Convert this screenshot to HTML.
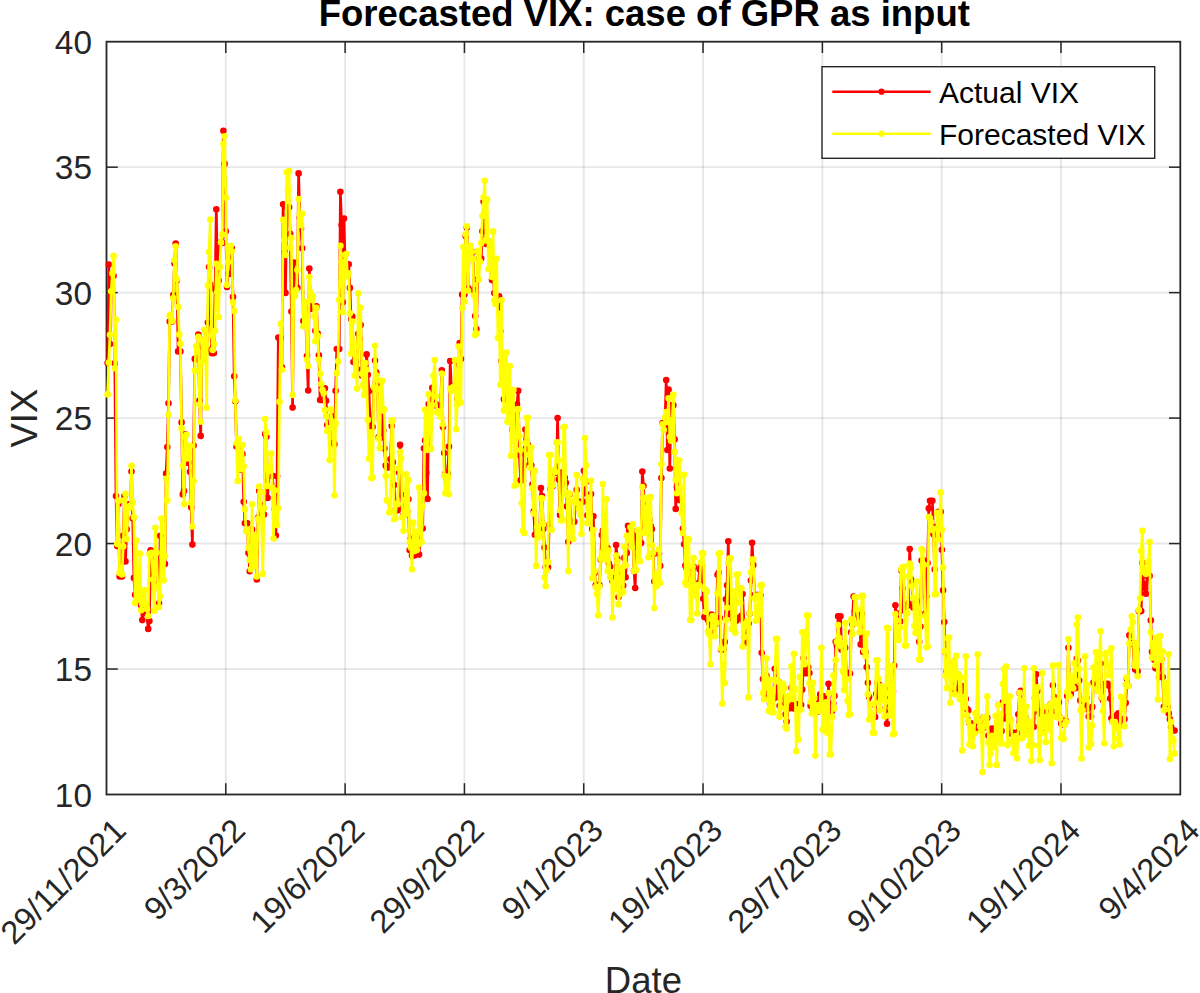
<!DOCTYPE html>
<html><head><meta charset="utf-8"><title>Forecasted VIX</title>
<style>html,body{margin:0;padding:0;background:#fff}body{width:1200px;height:993px;position:relative;overflow:hidden;font-family:"Liberation Sans",sans-serif}</style></head>
<body>
<svg width="1200" height="993" viewBox="0 0 1200 993" style="position:absolute;left:0;top:0;font-family:'Liberation Sans',sans-serif">
<rect x="0" y="0" width="1200" height="993" fill="#fff"/>
<line x1="225.81" y1="41.7" x2="225.81" y2="794.5" stroke="rgba(38,38,38,0.11)" stroke-width="1.9"/>
<line x1="345.12" y1="41.7" x2="345.12" y2="794.5" stroke="rgba(38,38,38,0.11)" stroke-width="1.9"/>
<line x1="464.43" y1="41.7" x2="464.43" y2="794.5" stroke="rgba(38,38,38,0.11)" stroke-width="1.9"/>
<line x1="583.74" y1="41.7" x2="583.74" y2="794.5" stroke="rgba(38,38,38,0.11)" stroke-width="1.9"/>
<line x1="703.06" y1="41.7" x2="703.06" y2="794.5" stroke="rgba(38,38,38,0.11)" stroke-width="1.9"/>
<line x1="822.37" y1="41.7" x2="822.37" y2="794.5" stroke="rgba(38,38,38,0.11)" stroke-width="1.9"/>
<line x1="941.68" y1="41.7" x2="941.68" y2="794.5" stroke="rgba(38,38,38,0.11)" stroke-width="1.9"/>
<line x1="1060.99" y1="41.7" x2="1060.99" y2="794.5" stroke="rgba(38,38,38,0.11)" stroke-width="1.9"/>
<line x1="106.5" y1="669.03" x2="1180.3" y2="669.03" stroke="rgba(38,38,38,0.11)" stroke-width="1.9"/>
<line x1="106.5" y1="543.57" x2="1180.3" y2="543.57" stroke="rgba(38,38,38,0.11)" stroke-width="1.9"/>
<line x1="106.5" y1="418.10" x2="1180.3" y2="418.10" stroke="rgba(38,38,38,0.11)" stroke-width="1.9"/>
<line x1="106.5" y1="292.63" x2="1180.3" y2="292.63" stroke="rgba(38,38,38,0.11)" stroke-width="1.9"/>
<line x1="106.5" y1="167.17" x2="1180.3" y2="167.17" stroke="rgba(38,38,38,0.11)" stroke-width="1.9"/>
<rect x="106.5" y="41.7" width="1073.8" height="752.8" fill="none" stroke="#262626" stroke-width="1.8"/>
<line x1="225.81" y1="794.5" x2="225.81" y2="783.2" stroke="#262626" stroke-width="1.5"/>
<line x1="225.81" y1="41.7" x2="225.81" y2="53.0" stroke="#262626" stroke-width="1.5"/>
<line x1="345.12" y1="794.5" x2="345.12" y2="783.2" stroke="#262626" stroke-width="1.5"/>
<line x1="345.12" y1="41.7" x2="345.12" y2="53.0" stroke="#262626" stroke-width="1.5"/>
<line x1="464.43" y1="794.5" x2="464.43" y2="783.2" stroke="#262626" stroke-width="1.5"/>
<line x1="464.43" y1="41.7" x2="464.43" y2="53.0" stroke="#262626" stroke-width="1.5"/>
<line x1="583.74" y1="794.5" x2="583.74" y2="783.2" stroke="#262626" stroke-width="1.5"/>
<line x1="583.74" y1="41.7" x2="583.74" y2="53.0" stroke="#262626" stroke-width="1.5"/>
<line x1="703.06" y1="794.5" x2="703.06" y2="783.2" stroke="#262626" stroke-width="1.5"/>
<line x1="703.06" y1="41.7" x2="703.06" y2="53.0" stroke="#262626" stroke-width="1.5"/>
<line x1="822.37" y1="794.5" x2="822.37" y2="783.2" stroke="#262626" stroke-width="1.5"/>
<line x1="822.37" y1="41.7" x2="822.37" y2="53.0" stroke="#262626" stroke-width="1.5"/>
<line x1="941.68" y1="794.5" x2="941.68" y2="783.2" stroke="#262626" stroke-width="1.5"/>
<line x1="941.68" y1="41.7" x2="941.68" y2="53.0" stroke="#262626" stroke-width="1.5"/>
<line x1="1060.99" y1="794.5" x2="1060.99" y2="783.2" stroke="#262626" stroke-width="1.5"/>
<line x1="1060.99" y1="41.7" x2="1060.99" y2="53.0" stroke="#262626" stroke-width="1.5"/>
<line x1="106.5" y1="669.03" x2="117.8" y2="669.03" stroke="#262626" stroke-width="1.5"/>
<line x1="1180.3" y1="669.03" x2="1169.0" y2="669.03" stroke="#262626" stroke-width="1.5"/>
<line x1="106.5" y1="543.57" x2="117.8" y2="543.57" stroke="#262626" stroke-width="1.5"/>
<line x1="1180.3" y1="543.57" x2="1169.0" y2="543.57" stroke="#262626" stroke-width="1.5"/>
<line x1="106.5" y1="418.10" x2="117.8" y2="418.10" stroke="#262626" stroke-width="1.5"/>
<line x1="1180.3" y1="418.10" x2="1169.0" y2="418.10" stroke="#262626" stroke-width="1.5"/>
<line x1="106.5" y1="292.63" x2="117.8" y2="292.63" stroke="#262626" stroke-width="1.5"/>
<line x1="1180.3" y1="292.63" x2="1169.0" y2="292.63" stroke="#262626" stroke-width="1.5"/>
<line x1="106.5" y1="167.17" x2="117.8" y2="167.17" stroke="#262626" stroke-width="1.5"/>
<line x1="1180.3" y1="167.17" x2="1169.0" y2="167.17" stroke="#262626" stroke-width="1.5"/>
<polyline points="107.6,363.1 108.8,264.5 110.0,344.1 111.2,275.8 112.4,275.8 113.6,275.8 114.8,363.4 116.0,496.1 117.2,546.1 118.4,503.9 119.6,576.4 120.8,576.4 122.0,576.4 123.2,535.8 124.4,496.1 125.5,561.4 126.7,529.3 127.9,504.2 129.1,504.2 130.3,504.2 131.5,471.5 132.7,518.2 133.9,577.9 135.1,594.8 136.3,594.8 137.5,594.8 138.7,594.8 139.9,601.8 141.1,605.3 142.3,620.1 143.4,610.6 144.6,613.3 145.8,613.3 147.0,613.3 148.2,628.9 149.4,621.1 150.6,550.3 151.8,553.4 153.0,574.7 154.2,574.7 155.4,574.7 156.6,558.6 157.8,583.5 159.0,603.3 160.2,535.8 161.4,563.9 162.5,563.9 163.7,563.9 164.9,563.9 166.1,473.6 167.3,447.0 168.5,403.3 169.7,321.5 170.9,321.5 172.1,321.5 173.3,295.1 174.5,263.5 175.7,243.5 176.9,280.3 178.1,351.4 179.3,351.4 180.4,351.4 181.6,422.4 182.8,494.4 184.0,491.1 185.2,434.4 186.4,462.8 187.6,462.8 188.8,462.8 190.0,471.8 191.2,507.4 192.4,544.6 193.6,445.5 194.8,358.9 196.0,358.9 197.2,358.9 198.3,334.5 199.5,400.5 200.7,435.9 201.9,340.1 203.1,349.1 204.3,349.1 205.5,349.1 206.7,349.1 207.9,322.5 209.1,267.0 210.3,284.6 211.5,353.1 212.7,353.1 213.9,353.1 215.1,288.9 216.3,209.3 217.4,274.1 218.6,280.6 219.8,242.9 221.0,242.9 222.2,242.9 223.4,130.8 224.6,163.9 225.8,231.2 227.0,286.9 228.2,273.8 229.4,273.8 230.6,273.8 231.8,248.2 233.0,296.9 234.2,376.2 235.3,401.3 236.5,446.5 237.7,446.5 238.9,446.5 240.1,455.0 241.3,469.8 242.5,454.0 243.7,501.7 244.9,523.2 246.1,523.2 247.3,523.2 248.5,552.9 249.7,571.2 250.9,560.4 252.1,529.5 253.3,552.9 254.4,552.9 255.6,552.9 256.8,579.5 258.0,517.7 259.2,490.9 260.4,504.7 261.6,514.5 262.8,514.5 264.0,514.5 265.2,433.9 266.4,436.7 267.6,497.9 268.8,475.8 270.0,475.8 271.2,475.8 272.3,475.8 273.5,489.1 274.7,509.2 275.9,535.5 277.1,476.3 278.3,337.6 279.5,337.6 280.7,337.6 281.9,367.4 283.1,204.3 284.3,252.5 285.5,292.9 286.7,207.3 287.9,207.3 289.1,207.3 290.2,233.9 291.4,311.5 292.6,407.6 293.8,262.5 295.0,287.9 296.2,287.9 297.4,287.9 298.6,173.4 299.8,217.6 301.0,228.4 302.2,248.2 303.4,321.0 304.6,321.0 305.8,321.0 307.0,356.1 308.2,390.5 309.3,268.5 310.5,308.9 311.7,306.9 312.9,306.9 314.1,306.9 315.3,330.8 316.5,306.4 317.7,333.5 318.9,355.4 320.1,400.0 321.3,400.0 322.5,400.0 323.7,400.0 324.9,388.2 326.1,400.8 327.2,425.1 328.4,423.4 329.6,423.4 330.8,423.4 332.0,416.3 333.2,442.7 334.4,444.2 335.6,390.7 336.8,349.1 338.0,349.1 339.2,349.1 340.4,191.8 341.6,225.1 342.8,302.2 344.0,218.6 345.1,264.3 346.3,264.3 347.5,264.3 348.7,264.3 349.9,287.9 351.1,319.0 352.3,316.5 353.5,362.1 354.7,362.1 355.9,362.1 357.1,369.2 358.3,333.8 359.5,338.8 360.7,325.0 361.9,375.4 363.1,375.4 364.2,375.4 365.4,375.4 366.6,354.4 367.8,374.7 369.0,391.0 370.2,427.1 371.4,427.1 372.6,427.1 373.8,388.7 375.0,360.6 376.2,372.4 377.4,383.0 378.6,437.4 379.8,437.4 381.0,437.4 382.1,410.6 383.3,430.6 384.5,448.5 385.7,465.5 386.9,467.5 388.1,467.5 389.3,467.5 390.5,459.3 391.7,425.9 392.9,462.3 394.1,485.1 395.3,510.2 396.5,510.2 397.7,510.2 398.9,472.3 400.1,444.9 401.2,494.6 402.4,507.4 403.6,514.7 404.8,514.7 406.0,514.7 407.2,511.2 408.4,499.2 409.6,550.1 410.8,538.5 412.0,555.4 413.2,555.4 414.4,555.4 415.6,544.8 416.8,551.3 418.0,546.1 419.1,554.6 420.3,528.5 421.5,528.5 422.7,528.5 423.9,448.2 425.1,440.4 426.3,472.8 427.5,498.9 428.7,404.0 429.9,404.0 431.1,404.0 432.3,387.7 433.5,387.7 434.7,396.3 435.9,404.0 437.0,406.3 438.2,406.3 439.4,406.3 440.6,406.3 441.8,370.2 443.0,427.1 444.2,453.0 445.4,473.6 446.6,473.6 447.8,473.6 449.0,446.5 450.2,361.1 451.4,389.0 452.6,386.2 453.8,385.5 455.0,385.5 456.1,385.5 457.3,399.0 458.5,363.9 459.7,343.1 460.9,359.1 462.1,294.6 463.3,294.6 464.5,294.6 465.7,235.9 466.9,227.4 468.1,288.1 469.3,246.5 470.5,252.0 471.7,252.0 472.9,252.0 474.0,290.1 475.2,316.0 476.4,329.0 477.6,279.6 478.8,258.5 480.0,258.5 481.2,258.5 482.4,231.2 483.6,201.5 484.8,203.1 486.0,244.0 487.2,241.9 488.4,241.9 489.6,241.9 490.8,258.3 492.0,280.1 493.1,273.6 494.3,293.1 495.5,300.4 496.7,300.4 497.9,300.4 499.1,296.4 500.3,331.3 501.5,360.9 502.7,358.1 503.9,399.3 505.1,399.3 506.3,399.3 507.5,396.0 508.7,397.8 509.9,396.5 511.0,410.6 512.2,429.4 513.4,429.4 514.6,429.4 515.8,434.4 517.0,404.5 518.2,390.7 519.4,455.0 520.6,480.3 521.8,480.3 523.0,480.3 524.2,450.0 525.4,429.6 526.6,440.4 527.8,444.9 528.9,465.3 530.1,465.3 531.3,465.3 532.5,484.3 533.7,511.2 534.9,534.8 536.1,534.8 537.3,531.0 538.5,531.0 539.7,531.0 540.9,488.1 542.1,496.1 543.3,529.0 544.5,547.6 545.7,567.2 546.9,567.2 548.0,567.2 549.2,524.7 550.4,489.1 551.6,476.3 552.8,486.1 554.0,472.6 555.2,472.6 556.4,472.6 557.6,418.1 558.8,479.6 560.0,515.0 561.2,472.6 562.4,477.8 563.6,477.8 564.8,477.8 565.9,482.8 567.1,506.4 568.3,541.8 569.5,494.1 570.7,521.7 571.9,521.7 573.1,521.7 574.3,521.7 575.5,502.2 576.7,489.9 577.9,507.4 579.1,501.7 580.3,501.7 581.5,501.7 582.7,501.7 583.9,470.8 585.0,493.1 586.2,481.8 587.4,515.2 588.6,515.2 589.8,515.2 591.0,494.1 592.2,529.0 593.4,516.2 594.6,572.9 595.8,585.0 597.0,585.0 598.2,585.0 599.4,585.0 600.6,559.6 601.8,535.0 602.9,530.5 604.1,547.3 605.3,547.3 606.5,547.3 607.7,548.3 608.9,563.6 610.1,566.7 611.3,575.4 612.5,581.0 613.7,581.0 614.9,581.0 616.1,545.1 617.3,558.6 618.5,597.0 619.7,575.4 620.8,585.5 622.0,585.5 623.2,585.5 624.4,557.9 625.6,577.2 626.8,552.9 628.0,525.8 629.2,530.3 630.4,530.3 631.6,530.3 632.8,535.0 634.0,570.9 635.2,588.0 636.4,539.3 637.6,543.1 638.8,543.1 639.9,543.1 641.1,543.1 642.3,471.5 643.5,486.1 644.7,515.0 645.9,501.7 647.1,501.7 648.3,501.7 649.5,519.7 650.7,526.0 651.9,529.0 653.1,553.9 654.3,581.5 655.5,581.5 656.7,581.5 657.8,578.4 659.0,553.9 660.2,565.9 661.4,478.1 662.6,423.1 663.8,423.1 665.0,423.1 666.2,380.0 667.4,450.0 668.6,389.5 669.8,468.5 671.0,405.3 672.2,405.3 673.4,405.3 674.6,439.4 675.7,508.9 676.9,486.9 678.1,478.1 679.3,499.9 680.5,499.9 681.7,499.9 682.9,528.5 684.1,544.3 685.3,565.6 686.5,568.2 687.7,576.2 688.9,576.2 690.1,576.2 691.3,580.0 692.5,568.7 693.7,566.7 694.8,583.7 696.0,583.7 697.2,583.7 698.4,583.7 699.6,569.4 700.8,566.2 702.0,566.4 703.2,598.8 704.4,617.1 705.6,617.1 706.8,617.1 708.0,620.1 709.2,623.1 710.4,632.4 711.6,614.6 712.7,624.6 713.9,624.6 715.1,624.6 716.3,621.6 717.5,574.7 718.7,572.7 719.9,618.1 721.1,649.5 722.3,649.5 723.5,649.5 724.7,641.9 725.9,599.3 727.1,585.2 728.3,541.3 729.5,614.1 730.7,614.1 731.8,614.1 733.0,619.3 734.2,601.0 735.4,620.4 736.6,620.6 737.8,618.1 739.0,618.1 740.2,618.1 741.4,615.8 742.6,594.0 743.8,622.1 745.0,642.7 746.2,623.6 747.4,623.6 748.6,623.6 749.7,613.6 750.9,580.5 752.1,542.8 753.3,565.1 754.5,595.0 755.7,595.0 756.9,595.0 758.1,595.0 759.3,607.3 760.5,595.3 761.7,652.7 762.9,679.1 764.1,679.1 765.3,679.1 766.5,675.8 767.6,695.1 768.8,695.6 770.0,702.9 771.2,698.4 772.4,698.4 773.6,698.4 774.8,668.8 776.0,678.8 777.2,697.1 778.4,681.6 779.6,705.7 780.8,705.7 782.0,705.7 783.2,705.7 784.4,697.1 785.6,714.2 786.7,721.5 787.9,708.2 789.1,708.2 790.3,708.2 791.5,687.9 792.7,700.7 793.9,708.4 795.1,705.7 796.3,704.4 797.5,704.4 798.7,704.4 799.9,704.9 801.1,704.9 802.3,689.6 803.5,658.0 804.6,673.3 805.8,673.3 807.0,673.3 808.2,667.3 809.4,673.0 810.6,705.7 811.8,703.9 813.0,710.7 814.2,710.7 815.4,710.7 816.6,707.2 817.8,711.7 819.0,700.1 820.2,694.4 821.4,704.2 822.6,704.2 823.7,704.2 824.9,696.4 826.1,697.6 827.3,714.5 828.5,683.8 829.7,710.9 830.9,710.9 832.1,710.9 833.3,703.4 834.5,695.9 835.7,641.7 836.9,645.9 838.1,616.3 839.3,616.3 840.5,616.3 841.6,649.7 842.8,644.2 844.0,644.9 845.2,647.7 846.4,673.0 847.6,673.0 848.8,673.0 850.0,673.6 851.2,632.4 852.4,624.4 853.6,596.5 854.8,611.3 856.0,611.3 857.2,611.3 858.4,615.6 859.5,619.6 860.7,644.4 861.9,613.8 863.1,652.0 864.3,652.0 865.5,652.0 866.7,667.0 867.9,682.8 869.1,697.1 870.3,704.9 871.5,717.0 872.7,717.0 873.9,717.0 875.1,717.0 876.3,693.9 877.5,682.8 878.6,684.1 879.8,698.1 881.0,698.1 882.2,698.1 883.4,699.1 884.6,688.4 885.8,707.2 887.0,723.7 888.2,699.4 889.4,699.4 890.6,699.4 891.8,694.1 893.0,691.4 894.2,665.5 895.4,605.3 896.5,613.8 897.7,613.8 898.9,613.8 900.1,621.4 901.3,570.2 902.5,588.2 903.7,610.3 904.9,605.8 906.1,605.8 907.3,605.8 908.5,603.5 909.7,549.1 910.9,579.2 912.1,581.5 913.3,607.6 914.4,607.6 915.6,607.6 916.8,601.3 918.0,618.1 919.2,641.7 920.4,626.6 921.6,560.6 922.8,560.6 924.0,560.6 925.2,613.6 926.4,596.8 927.6,563.1 928.8,508.4 930.0,500.7 931.2,500.7 932.4,500.7 933.5,534.3 934.7,569.4 935.9,538.8 937.1,526.5 938.3,511.7 939.5,511.7 940.7,511.7 941.9,549.8 943.1,590.2 944.3,622.1 945.5,652.5 946.7,671.3 947.9,671.3 949.1,671.3 950.3,671.8 951.4,673.8 952.6,682.8 953.8,661.8 955.0,689.9 956.2,689.9 957.4,689.9 958.6,675.1 959.8,690.1 961.0,689.6 962.2,686.1 963.4,699.1 964.6,699.1 965.8,699.1 967.0,708.9 968.2,710.4 969.4,723.0 970.5,723.0 971.7,732.8 972.9,732.8 974.1,732.8 975.3,727.0 976.5,727.0 977.7,719.7 978.9,721.2 980.1,728.5 981.3,728.5 982.5,728.5 983.7,717.2 984.9,723.0 986.1,720.0 987.3,717.7 988.4,735.5 989.6,735.5 990.8,735.5 992.0,728.5 993.2,742.6 994.4,739.5 995.6,732.3 996.8,737.3 998.0,737.3 999.2,737.3 1000.4,730.3 1001.6,731.0 1002.8,702.4 1004.0,702.9 1005.2,718.5 1006.3,718.5 1007.5,718.5 1008.7,718.5 1009.9,719.5 1011.1,733.5 1012.3,732.5 1013.5,733.0 1014.7,733.0 1015.9,733.0 1017.1,733.0 1018.3,714.2 1019.5,693.1 1020.7,690.9 1021.9,710.4 1023.1,710.4 1024.3,710.4 1025.4,717.2 1026.6,725.2 1027.8,727.0 1029.0,733.3 1030.2,726.7 1031.4,726.7 1032.6,726.7 1033.8,726.7 1035.0,698.1 1036.2,674.3 1037.4,690.9 1038.6,711.7 1039.8,711.7 1041.0,711.7 1042.2,714.5 1043.3,730.5 1044.5,715.7 1045.7,707.9 1046.9,712.7 1048.1,712.7 1049.3,712.7 1050.5,704.2 1051.7,711.4 1052.9,685.3 1054.1,697.1 1055.3,697.9 1056.5,697.9 1057.7,697.9 1058.9,702.4 1060.1,717.7 1061.2,723.5 1062.4,724.5 1063.6,721.0 1064.8,721.0 1066.0,721.0 1067.2,695.9 1068.4,647.7 1069.6,684.6 1070.8,693.9 1072.0,688.1 1073.2,688.1 1074.4,688.1 1075.6,688.1 1076.8,658.5 1078.0,660.5 1079.2,680.6 1080.3,700.4 1081.5,700.4 1082.7,700.4 1083.9,700.7 1085.1,708.4 1086.3,698.1 1087.5,709.2 1088.7,716.5 1089.9,716.5 1091.1,716.5 1092.3,706.9 1093.5,682.6 1094.7,681.6 1095.9,683.1 1097.1,675.6 1098.2,675.6 1099.4,675.6 1100.6,663.5 1101.8,698.1 1103.0,700.4 1104.2,684.1 1105.4,683.8 1106.6,683.8 1107.8,683.8 1109.0,685.8 1110.2,698.6 1111.4,718.2 1112.6,721.2 1113.8,717.7 1115.0,717.7 1116.2,717.7 1117.3,714.5 1118.5,713.2 1119.7,724.7 1120.9,719.0 1122.1,719.0 1123.3,719.0 1124.5,719.0 1125.7,702.9 1126.9,678.8 1128.1,685.8 1129.3,635.2 1130.5,643.2 1131.7,643.2 1132.9,643.2 1134.1,664.3 1135.2,669.5 1136.4,649.0 1137.6,671.3 1138.8,611.1 1140.0,611.1 1141.2,611.1 1142.4,562.9 1143.6,583.7 1144.8,588.5 1146.0,593.8 1147.2,575.9 1148.4,575.9 1149.6,575.9 1150.8,620.4 1152.0,651.7 1153.1,644.7 1154.3,659.7 1155.5,668.3 1156.7,668.3 1157.9,668.3 1159.1,677.3 1160.3,652.7 1161.5,659.2 1162.7,677.1 1163.9,706.9 1165.1,706.9 1166.3,706.9 1167.5,706.9 1168.7,713.4 1169.9,719.2 1171.1,727.0 1172.2,730.5 1173.4,730.5 1174.6,730.5" fill="none" stroke="#ff0000" stroke-width="2.7" stroke-linejoin="round" stroke-linecap="round"/>
<path d="M107.6,363.1h0M108.8,264.5h0M110.0,344.1h0M111.2,275.8h0M112.4,275.8h0M113.6,275.8h0M114.8,363.4h0M116.0,496.1h0M117.2,546.1h0M118.4,503.9h0M119.6,576.4h0M120.8,576.4h0M122.0,576.4h0M123.2,535.8h0M124.4,496.1h0M125.5,561.4h0M126.7,529.3h0M127.9,504.2h0M129.1,504.2h0M130.3,504.2h0M131.5,471.5h0M132.7,518.2h0M133.9,577.9h0M135.1,594.8h0M136.3,594.8h0M137.5,594.8h0M138.7,594.8h0M139.9,601.8h0M141.1,605.3h0M142.3,620.1h0M143.4,610.6h0M144.6,613.3h0M145.8,613.3h0M147.0,613.3h0M148.2,628.9h0M149.4,621.1h0M150.6,550.3h0M151.8,553.4h0M153.0,574.7h0M154.2,574.7h0M155.4,574.7h0M156.6,558.6h0M157.8,583.5h0M159.0,603.3h0M160.2,535.8h0M161.4,563.9h0M162.5,563.9h0M163.7,563.9h0M164.9,563.9h0M166.1,473.6h0M167.3,447.0h0M168.5,403.3h0M169.7,321.5h0M170.9,321.5h0M172.1,321.5h0M173.3,295.1h0M174.5,263.5h0M175.7,243.5h0M176.9,280.3h0M178.1,351.4h0M179.3,351.4h0M180.4,351.4h0M181.6,422.4h0M182.8,494.4h0M184.0,491.1h0M185.2,434.4h0M186.4,462.8h0M187.6,462.8h0M188.8,462.8h0M190.0,471.8h0M191.2,507.4h0M192.4,544.6h0M193.6,445.5h0M194.8,358.9h0M196.0,358.9h0M197.2,358.9h0M198.3,334.5h0M199.5,400.5h0M200.7,435.9h0M201.9,340.1h0M203.1,349.1h0M204.3,349.1h0M205.5,349.1h0M206.7,349.1h0M207.9,322.5h0M209.1,267.0h0M210.3,284.6h0M211.5,353.1h0M212.7,353.1h0M213.9,353.1h0M215.1,288.9h0M216.3,209.3h0M217.4,274.1h0M218.6,280.6h0M219.8,242.9h0M221.0,242.9h0M222.2,242.9h0M223.4,130.8h0M224.6,163.9h0M225.8,231.2h0M227.0,286.9h0M228.2,273.8h0M229.4,273.8h0M230.6,273.8h0M231.8,248.2h0M233.0,296.9h0M234.2,376.2h0M235.3,401.3h0M236.5,446.5h0M237.7,446.5h0M238.9,446.5h0M240.1,455.0h0M241.3,469.8h0M242.5,454.0h0M243.7,501.7h0M244.9,523.2h0M246.1,523.2h0M247.3,523.2h0M248.5,552.9h0M249.7,571.2h0M250.9,560.4h0M252.1,529.5h0M253.3,552.9h0M254.4,552.9h0M255.6,552.9h0M256.8,579.5h0M258.0,517.7h0M259.2,490.9h0M260.4,504.7h0M261.6,514.5h0M262.8,514.5h0M264.0,514.5h0M265.2,433.9h0M266.4,436.7h0M267.6,497.9h0M268.8,475.8h0M270.0,475.8h0M271.2,475.8h0M272.3,475.8h0M273.5,489.1h0M274.7,509.2h0M275.9,535.5h0M277.1,476.3h0M278.3,337.6h0M279.5,337.6h0M280.7,337.6h0M281.9,367.4h0M283.1,204.3h0M284.3,252.5h0M285.5,292.9h0M286.7,207.3h0M287.9,207.3h0M289.1,207.3h0M290.2,233.9h0M291.4,311.5h0M292.6,407.6h0M293.8,262.5h0M295.0,287.9h0M296.2,287.9h0M297.4,287.9h0M298.6,173.4h0M299.8,217.6h0M301.0,228.4h0M302.2,248.2h0M303.4,321.0h0M304.6,321.0h0M305.8,321.0h0M307.0,356.1h0M308.2,390.5h0M309.3,268.5h0M310.5,308.9h0M311.7,306.9h0M312.9,306.9h0M314.1,306.9h0M315.3,330.8h0M316.5,306.4h0M317.7,333.5h0M318.9,355.4h0M320.1,400.0h0M321.3,400.0h0M322.5,400.0h0M323.7,400.0h0M324.9,388.2h0M326.1,400.8h0M327.2,425.1h0M328.4,423.4h0M329.6,423.4h0M330.8,423.4h0M332.0,416.3h0M333.2,442.7h0M334.4,444.2h0M335.6,390.7h0M336.8,349.1h0M338.0,349.1h0M339.2,349.1h0M340.4,191.8h0M341.6,225.1h0M342.8,302.2h0M344.0,218.6h0M345.1,264.3h0M346.3,264.3h0M347.5,264.3h0M348.7,264.3h0M349.9,287.9h0M351.1,319.0h0M352.3,316.5h0M353.5,362.1h0M354.7,362.1h0M355.9,362.1h0M357.1,369.2h0M358.3,333.8h0M359.5,338.8h0M360.7,325.0h0M361.9,375.4h0M363.1,375.4h0M364.2,375.4h0M365.4,375.4h0M366.6,354.4h0M367.8,374.7h0M369.0,391.0h0M370.2,427.1h0M371.4,427.1h0M372.6,427.1h0M373.8,388.7h0M375.0,360.6h0M376.2,372.4h0M377.4,383.0h0M378.6,437.4h0M379.8,437.4h0M381.0,437.4h0M382.1,410.6h0M383.3,430.6h0M384.5,448.5h0M385.7,465.5h0M386.9,467.5h0M388.1,467.5h0M389.3,467.5h0M390.5,459.3h0M391.7,425.9h0M392.9,462.3h0M394.1,485.1h0M395.3,510.2h0M396.5,510.2h0M397.7,510.2h0M398.9,472.3h0M400.1,444.9h0M401.2,494.6h0M402.4,507.4h0M403.6,514.7h0M404.8,514.7h0M406.0,514.7h0M407.2,511.2h0M408.4,499.2h0M409.6,550.1h0M410.8,538.5h0M412.0,555.4h0M413.2,555.4h0M414.4,555.4h0M415.6,544.8h0M416.8,551.3h0M418.0,546.1h0M419.1,554.6h0M420.3,528.5h0M421.5,528.5h0M422.7,528.5h0M423.9,448.2h0M425.1,440.4h0M426.3,472.8h0M427.5,498.9h0M428.7,404.0h0M429.9,404.0h0M431.1,404.0h0M432.3,387.7h0M433.5,387.7h0M434.7,396.3h0M435.9,404.0h0M437.0,406.3h0M438.2,406.3h0M439.4,406.3h0M440.6,406.3h0M441.8,370.2h0M443.0,427.1h0M444.2,453.0h0M445.4,473.6h0M446.6,473.6h0M447.8,473.6h0M449.0,446.5h0M450.2,361.1h0M451.4,389.0h0M452.6,386.2h0M453.8,385.5h0M455.0,385.5h0M456.1,385.5h0M457.3,399.0h0M458.5,363.9h0M459.7,343.1h0M460.9,359.1h0M462.1,294.6h0M463.3,294.6h0M464.5,294.6h0M465.7,235.9h0M466.9,227.4h0M468.1,288.1h0M469.3,246.5h0M470.5,252.0h0M471.7,252.0h0M472.9,252.0h0M474.0,290.1h0M475.2,316.0h0M476.4,329.0h0M477.6,279.6h0M478.8,258.5h0M480.0,258.5h0M481.2,258.5h0M482.4,231.2h0M483.6,201.5h0M484.8,203.1h0M486.0,244.0h0M487.2,241.9h0M488.4,241.9h0M489.6,241.9h0M490.8,258.3h0M492.0,280.1h0M493.1,273.6h0M494.3,293.1h0M495.5,300.4h0M496.7,300.4h0M497.9,300.4h0M499.1,296.4h0M500.3,331.3h0M501.5,360.9h0M502.7,358.1h0M503.9,399.3h0M505.1,399.3h0M506.3,399.3h0M507.5,396.0h0M508.7,397.8h0M509.9,396.5h0M511.0,410.6h0M512.2,429.4h0M513.4,429.4h0M514.6,429.4h0M515.8,434.4h0M517.0,404.5h0M518.2,390.7h0M519.4,455.0h0M520.6,480.3h0M521.8,480.3h0M523.0,480.3h0M524.2,450.0h0M525.4,429.6h0M526.6,440.4h0M527.8,444.9h0M528.9,465.3h0M530.1,465.3h0M531.3,465.3h0M532.5,484.3h0M533.7,511.2h0M534.9,534.8h0M536.1,534.8h0M537.3,531.0h0M538.5,531.0h0M539.7,531.0h0M540.9,488.1h0M542.1,496.1h0M543.3,529.0h0M544.5,547.6h0M545.7,567.2h0M546.9,567.2h0M548.0,567.2h0M549.2,524.7h0M550.4,489.1h0M551.6,476.3h0M552.8,486.1h0M554.0,472.6h0M555.2,472.6h0M556.4,472.6h0M557.6,418.1h0M558.8,479.6h0M560.0,515.0h0M561.2,472.6h0M562.4,477.8h0M563.6,477.8h0M564.8,477.8h0M565.9,482.8h0M567.1,506.4h0M568.3,541.8h0M569.5,494.1h0M570.7,521.7h0M571.9,521.7h0M573.1,521.7h0M574.3,521.7h0M575.5,502.2h0M576.7,489.9h0M577.9,507.4h0M579.1,501.7h0M580.3,501.7h0M581.5,501.7h0M582.7,501.7h0M583.9,470.8h0M585.0,493.1h0M586.2,481.8h0M587.4,515.2h0M588.6,515.2h0M589.8,515.2h0M591.0,494.1h0M592.2,529.0h0M593.4,516.2h0M594.6,572.9h0M595.8,585.0h0M597.0,585.0h0M598.2,585.0h0M599.4,585.0h0M600.6,559.6h0M601.8,535.0h0M602.9,530.5h0M604.1,547.3h0M605.3,547.3h0M606.5,547.3h0M607.7,548.3h0M608.9,563.6h0M610.1,566.7h0M611.3,575.4h0M612.5,581.0h0M613.7,581.0h0M614.9,581.0h0M616.1,545.1h0M617.3,558.6h0M618.5,597.0h0M619.7,575.4h0M620.8,585.5h0M622.0,585.5h0M623.2,585.5h0M624.4,557.9h0M625.6,577.2h0M626.8,552.9h0M628.0,525.8h0M629.2,530.3h0M630.4,530.3h0M631.6,530.3h0M632.8,535.0h0M634.0,570.9h0M635.2,588.0h0M636.4,539.3h0M637.6,543.1h0M638.8,543.1h0M639.9,543.1h0M641.1,543.1h0M642.3,471.5h0M643.5,486.1h0M644.7,515.0h0M645.9,501.7h0M647.1,501.7h0M648.3,501.7h0M649.5,519.7h0M650.7,526.0h0M651.9,529.0h0M653.1,553.9h0M654.3,581.5h0M655.5,581.5h0M656.7,581.5h0M657.8,578.4h0M659.0,553.9h0M660.2,565.9h0M661.4,478.1h0M662.6,423.1h0M663.8,423.1h0M665.0,423.1h0M666.2,380.0h0M667.4,450.0h0M668.6,389.5h0M669.8,468.5h0M671.0,405.3h0M672.2,405.3h0M673.4,405.3h0M674.6,439.4h0M675.7,508.9h0M676.9,486.9h0M678.1,478.1h0M679.3,499.9h0M680.5,499.9h0M681.7,499.9h0M682.9,528.5h0M684.1,544.3h0M685.3,565.6h0M686.5,568.2h0M687.7,576.2h0M688.9,576.2h0M690.1,576.2h0M691.3,580.0h0M692.5,568.7h0M693.7,566.7h0M694.8,583.7h0M696.0,583.7h0M697.2,583.7h0M698.4,583.7h0M699.6,569.4h0M700.8,566.2h0M702.0,566.4h0M703.2,598.8h0M704.4,617.1h0M705.6,617.1h0M706.8,617.1h0M708.0,620.1h0M709.2,623.1h0M710.4,632.4h0M711.6,614.6h0M712.7,624.6h0M713.9,624.6h0M715.1,624.6h0M716.3,621.6h0M717.5,574.7h0M718.7,572.7h0M719.9,618.1h0M721.1,649.5h0M722.3,649.5h0M723.5,649.5h0M724.7,641.9h0M725.9,599.3h0M727.1,585.2h0M728.3,541.3h0M729.5,614.1h0M730.7,614.1h0M731.8,614.1h0M733.0,619.3h0M734.2,601.0h0M735.4,620.4h0M736.6,620.6h0M737.8,618.1h0M739.0,618.1h0M740.2,618.1h0M741.4,615.8h0M742.6,594.0h0M743.8,622.1h0M745.0,642.7h0M746.2,623.6h0M747.4,623.6h0M748.6,623.6h0M749.7,613.6h0M750.9,580.5h0M752.1,542.8h0M753.3,565.1h0M754.5,595.0h0M755.7,595.0h0M756.9,595.0h0M758.1,595.0h0M759.3,607.3h0M760.5,595.3h0M761.7,652.7h0M762.9,679.1h0M764.1,679.1h0M765.3,679.1h0M766.5,675.8h0M767.6,695.1h0M768.8,695.6h0M770.0,702.9h0M771.2,698.4h0M772.4,698.4h0M773.6,698.4h0M774.8,668.8h0M776.0,678.8h0M777.2,697.1h0M778.4,681.6h0M779.6,705.7h0M780.8,705.7h0M782.0,705.7h0M783.2,705.7h0M784.4,697.1h0M785.6,714.2h0M786.7,721.5h0M787.9,708.2h0M789.1,708.2h0M790.3,708.2h0M791.5,687.9h0M792.7,700.7h0M793.9,708.4h0M795.1,705.7h0M796.3,704.4h0M797.5,704.4h0M798.7,704.4h0M799.9,704.9h0M801.1,704.9h0M802.3,689.6h0M803.5,658.0h0M804.6,673.3h0M805.8,673.3h0M807.0,673.3h0M808.2,667.3h0M809.4,673.0h0M810.6,705.7h0M811.8,703.9h0M813.0,710.7h0M814.2,710.7h0M815.4,710.7h0M816.6,707.2h0M817.8,711.7h0M819.0,700.1h0M820.2,694.4h0M821.4,704.2h0M822.6,704.2h0M823.7,704.2h0M824.9,696.4h0M826.1,697.6h0M827.3,714.5h0M828.5,683.8h0M829.7,710.9h0M830.9,710.9h0M832.1,710.9h0M833.3,703.4h0M834.5,695.9h0M835.7,641.7h0M836.9,645.9h0M838.1,616.3h0M839.3,616.3h0M840.5,616.3h0M841.6,649.7h0M842.8,644.2h0M844.0,644.9h0M845.2,647.7h0M846.4,673.0h0M847.6,673.0h0M848.8,673.0h0M850.0,673.6h0M851.2,632.4h0M852.4,624.4h0M853.6,596.5h0M854.8,611.3h0M856.0,611.3h0M857.2,611.3h0M858.4,615.6h0M859.5,619.6h0M860.7,644.4h0M861.9,613.8h0M863.1,652.0h0M864.3,652.0h0M865.5,652.0h0M866.7,667.0h0M867.9,682.8h0M869.1,697.1h0M870.3,704.9h0M871.5,717.0h0M872.7,717.0h0M873.9,717.0h0M875.1,717.0h0M876.3,693.9h0M877.5,682.8h0M878.6,684.1h0M879.8,698.1h0M881.0,698.1h0M882.2,698.1h0M883.4,699.1h0M884.6,688.4h0M885.8,707.2h0M887.0,723.7h0M888.2,699.4h0M889.4,699.4h0M890.6,699.4h0M891.8,694.1h0M893.0,691.4h0M894.2,665.5h0M895.4,605.3h0M896.5,613.8h0M897.7,613.8h0M898.9,613.8h0M900.1,621.4h0M901.3,570.2h0M902.5,588.2h0M903.7,610.3h0M904.9,605.8h0M906.1,605.8h0M907.3,605.8h0M908.5,603.5h0M909.7,549.1h0M910.9,579.2h0M912.1,581.5h0M913.3,607.6h0M914.4,607.6h0M915.6,607.6h0M916.8,601.3h0M918.0,618.1h0M919.2,641.7h0M920.4,626.6h0M921.6,560.6h0M922.8,560.6h0M924.0,560.6h0M925.2,613.6h0M926.4,596.8h0M927.6,563.1h0M928.8,508.4h0M930.0,500.7h0M931.2,500.7h0M932.4,500.7h0M933.5,534.3h0M934.7,569.4h0M935.9,538.8h0M937.1,526.5h0M938.3,511.7h0M939.5,511.7h0M940.7,511.7h0M941.9,549.8h0M943.1,590.2h0M944.3,622.1h0M945.5,652.5h0M946.7,671.3h0M947.9,671.3h0M949.1,671.3h0M950.3,671.8h0M951.4,673.8h0M952.6,682.8h0M953.8,661.8h0M955.0,689.9h0M956.2,689.9h0M957.4,689.9h0M958.6,675.1h0M959.8,690.1h0M961.0,689.6h0M962.2,686.1h0M963.4,699.1h0M964.6,699.1h0M965.8,699.1h0M967.0,708.9h0M968.2,710.4h0M969.4,723.0h0M970.5,723.0h0M971.7,732.8h0M972.9,732.8h0M974.1,732.8h0M975.3,727.0h0M976.5,727.0h0M977.7,719.7h0M978.9,721.2h0M980.1,728.5h0M981.3,728.5h0M982.5,728.5h0M983.7,717.2h0M984.9,723.0h0M986.1,720.0h0M987.3,717.7h0M988.4,735.5h0M989.6,735.5h0M990.8,735.5h0M992.0,728.5h0M993.2,742.6h0M994.4,739.5h0M995.6,732.3h0M996.8,737.3h0M998.0,737.3h0M999.2,737.3h0M1000.4,730.3h0M1001.6,731.0h0M1002.8,702.4h0M1004.0,702.9h0M1005.2,718.5h0M1006.3,718.5h0M1007.5,718.5h0M1008.7,718.5h0M1009.9,719.5h0M1011.1,733.5h0M1012.3,732.5h0M1013.5,733.0h0M1014.7,733.0h0M1015.9,733.0h0M1017.1,733.0h0M1018.3,714.2h0M1019.5,693.1h0M1020.7,690.9h0M1021.9,710.4h0M1023.1,710.4h0M1024.3,710.4h0M1025.4,717.2h0M1026.6,725.2h0M1027.8,727.0h0M1029.0,733.3h0M1030.2,726.7h0M1031.4,726.7h0M1032.6,726.7h0M1033.8,726.7h0M1035.0,698.1h0M1036.2,674.3h0M1037.4,690.9h0M1038.6,711.7h0M1039.8,711.7h0M1041.0,711.7h0M1042.2,714.5h0M1043.3,730.5h0M1044.5,715.7h0M1045.7,707.9h0M1046.9,712.7h0M1048.1,712.7h0M1049.3,712.7h0M1050.5,704.2h0M1051.7,711.4h0M1052.9,685.3h0M1054.1,697.1h0M1055.3,697.9h0M1056.5,697.9h0M1057.7,697.9h0M1058.9,702.4h0M1060.1,717.7h0M1061.2,723.5h0M1062.4,724.5h0M1063.6,721.0h0M1064.8,721.0h0M1066.0,721.0h0M1067.2,695.9h0M1068.4,647.7h0M1069.6,684.6h0M1070.8,693.9h0M1072.0,688.1h0M1073.2,688.1h0M1074.4,688.1h0M1075.6,688.1h0M1076.8,658.5h0M1078.0,660.5h0M1079.2,680.6h0M1080.3,700.4h0M1081.5,700.4h0M1082.7,700.4h0M1083.9,700.7h0M1085.1,708.4h0M1086.3,698.1h0M1087.5,709.2h0M1088.7,716.5h0M1089.9,716.5h0M1091.1,716.5h0M1092.3,706.9h0M1093.5,682.6h0M1094.7,681.6h0M1095.9,683.1h0M1097.1,675.6h0M1098.2,675.6h0M1099.4,675.6h0M1100.6,663.5h0M1101.8,698.1h0M1103.0,700.4h0M1104.2,684.1h0M1105.4,683.8h0M1106.6,683.8h0M1107.8,683.8h0M1109.0,685.8h0M1110.2,698.6h0M1111.4,718.2h0M1112.6,721.2h0M1113.8,717.7h0M1115.0,717.7h0M1116.2,717.7h0M1117.3,714.5h0M1118.5,713.2h0M1119.7,724.7h0M1120.9,719.0h0M1122.1,719.0h0M1123.3,719.0h0M1124.5,719.0h0M1125.7,702.9h0M1126.9,678.8h0M1128.1,685.8h0M1129.3,635.2h0M1130.5,643.2h0M1131.7,643.2h0M1132.9,643.2h0M1134.1,664.3h0M1135.2,669.5h0M1136.4,649.0h0M1137.6,671.3h0M1138.8,611.1h0M1140.0,611.1h0M1141.2,611.1h0M1142.4,562.9h0M1143.6,583.7h0M1144.8,588.5h0M1146.0,593.8h0M1147.2,575.9h0M1148.4,575.9h0M1149.6,575.9h0M1150.8,620.4h0M1152.0,651.7h0M1153.1,644.7h0M1154.3,659.7h0M1155.5,668.3h0M1156.7,668.3h0M1157.9,668.3h0M1159.1,677.3h0M1160.3,652.7h0M1161.5,659.2h0M1162.7,677.1h0M1163.9,706.9h0M1165.1,706.9h0M1166.3,706.9h0M1167.5,706.9h0M1168.7,713.4h0M1169.9,719.2h0M1171.1,727.0h0M1172.2,730.5h0M1173.4,730.5h0M1174.6,730.5h0" fill="none" stroke="#ff0000" stroke-width="6.6" stroke-linecap="round"/>
<polyline points="107.6,394.4 108.8,362.5 110.0,334.8 111.2,291.2 112.4,273.4 113.6,255.9 114.8,368.3 116.0,319.6 117.2,543.9 118.4,500.9 119.6,573.1 120.8,567.6 122.0,574.4 123.2,546.4 124.4,500.2 125.5,493.9 126.7,539.1 127.9,506.5 129.1,507.9 130.3,505.9 131.5,465.8 132.7,502.4 133.9,517.3 135.1,602.9 136.3,540.6 137.5,599.6 138.7,599.5 139.9,553.6 141.1,610.3 142.3,604.0 143.4,594.0 144.6,590.0 145.8,604.9 147.0,608.9 148.2,616.0 149.4,554.2 150.6,553.2 151.8,552.9 153.0,579.6 154.2,610.8 155.4,527.7 156.6,552.5 157.8,586.4 159.0,607.0 160.2,596.5 161.4,518.6 162.5,557.6 163.7,580.2 164.9,556.2 166.1,478.8 167.3,500.4 168.5,414.7 169.7,315.6 170.9,314.5 172.1,320.9 173.3,298.1 174.5,260.3 175.7,246.2 176.9,279.3 178.1,307.1 179.3,334.4 180.4,343.8 181.6,428.4 182.8,465.8 184.0,504.3 185.2,436.8 186.4,434.7 187.6,458.5 188.8,453.7 190.0,445.8 191.2,502.5 192.4,526.4 193.6,480.9 194.8,370.5 196.0,346.2 197.2,351.2 198.3,336.9 199.5,404.6 200.7,421.8 201.9,340.5 203.1,361.5 204.3,330.1 205.5,346.0 206.7,407.7 207.9,285.6 209.1,252.0 210.3,219.6 211.5,335.0 212.7,350.0 213.9,344.0 215.1,331.0 216.3,263.8 217.4,292.0 218.6,317.0 219.8,266.9 221.0,242.5 222.2,234.4 223.4,143.8 224.6,136.2 225.8,197.5 227.0,285.0 228.2,262.0 229.4,247.0 230.6,246.0 231.8,251.0 233.0,302.5 234.2,311.0 235.3,400.3 236.5,443.2 237.7,480.9 238.9,438.7 240.1,459.7 241.3,469.2 242.5,445.1 243.7,466.6 244.9,509.3 246.1,531.1 247.3,529.6 248.5,548.0 249.7,560.0 250.9,569.4 252.1,504.3 253.3,566.5 254.4,556.3 255.6,535.5 256.8,576.5 258.0,518.9 259.2,486.6 260.4,492.3 261.6,520.3 262.8,573.9 264.0,508.6 265.2,419.1 266.4,432.4 267.6,485.9 268.8,466.6 270.0,470.8 271.2,453.6 272.3,488.1 273.5,538.6 274.7,490.2 275.9,522.0 277.1,525.1 278.3,508.2 279.5,401.7 280.7,323.7 281.9,369.7 283.1,219.8 284.3,240.0 285.5,255.0 286.7,172.2 287.9,190.0 289.1,171.0 290.2,247.6 291.4,238.0 292.6,395.0 293.8,292.0 295.0,296.0 296.2,290.0 297.4,270.0 298.6,199.0 299.8,215.0 301.0,225.0 302.2,213.8 303.4,326.5 304.6,302.9 305.8,302.0 307.0,359.5 308.2,366.0 309.3,277.0 310.5,292.0 311.7,299.9 312.9,296.3 314.1,316.2 315.3,341.2 316.5,307.9 317.7,335.9 318.9,359.5 320.1,374.0 321.3,384.0 322.5,390.0 323.7,393.0 324.9,410.0 326.1,415.9 327.2,431.0 328.4,428.3 329.6,460.1 330.8,409.5 332.0,421.5 333.2,427.8 334.4,495.2 335.6,423.8 336.8,373.0 338.0,361.3 339.2,300.0 340.4,245.7 341.6,262.0 342.8,312.0 344.0,264.0 345.1,254.8 346.3,254.0 347.5,276.5 348.7,273.4 349.9,313.2 351.1,353.5 352.3,321.5 353.5,343.4 354.7,375.6 355.9,356.1 357.1,388.6 358.3,293.2 359.5,346.8 360.7,307.8 361.9,373.7 363.1,385.1 364.2,395.1 365.4,363.0 366.6,369.7 367.8,419.9 369.0,458.8 370.2,432.4 371.4,478.3 372.6,477.5 373.8,387.3 375.0,345.7 376.2,375.5 377.4,389.1 378.6,438.6 379.8,448.3 381.0,380.8 382.1,380.8 383.3,410.6 384.5,409.5 385.7,475.7 386.9,500.4 388.1,500.8 389.3,512.5 390.5,511.6 391.7,421.2 392.9,420.0 394.1,519.2 395.3,518.6 396.5,503.9 397.7,504.3 398.9,468.4 400.1,452.0 401.2,458.3 402.4,517.3 403.6,530.8 404.8,515.0 406.0,474.2 407.2,513.3 408.4,480.0 409.6,541.7 410.8,547.5 412.0,569.3 413.2,522.5 414.4,551.1 415.6,531.7 416.8,550.1 418.0,544.7 419.1,487.5 420.3,525.7 421.5,541.9 422.7,506.7 423.9,493.3 425.1,409.7 426.3,410.1 427.5,450.0 428.7,394.3 429.9,416.0 431.1,448.7 432.3,405.0 433.5,375.7 434.7,360.0 435.9,396.6 437.0,412.5 438.2,411.4 439.4,412.3 440.6,417.0 441.8,373.5 443.0,424.2 444.2,475.8 445.4,493.3 446.6,481.7 447.8,476.8 449.0,494.2 450.2,388.6 451.4,390.8 452.6,387.6 453.8,386.9 455.0,360.0 456.1,429.2 457.3,404.5 458.5,346.5 459.7,402.9 460.9,402.5 462.1,308.1 463.3,247.0 464.5,301.6 465.7,234.2 466.9,226.2 468.1,290.8 469.3,251.9 470.5,245.7 471.7,252.0 472.9,259.2 474.0,295.5 475.2,335.0 476.4,333.5 477.6,250.9 478.8,279.5 480.0,261.6 481.2,243.1 482.4,215.8 483.6,197.5 484.8,180.8 486.0,240.4 487.2,199.5 488.4,269.1 489.6,241.8 490.8,267.0 492.0,276.9 493.1,231.4 494.3,300.3 495.5,304.1 496.7,258.7 497.9,337.9 499.1,313.9 500.3,384.7 501.5,300.3 502.7,384.7 503.9,410.6 505.1,352.7 506.3,352.6 507.5,421.7 508.7,366.5 509.9,366.1 511.0,455.8 512.2,389.9 513.4,390.0 514.6,485.7 515.8,485.0 517.0,409.2 518.2,409.0 519.4,436.0 520.6,450.0 521.8,503.3 523.0,530.8 524.2,533.0 525.4,443.3 526.6,418.0 527.8,417.7 528.9,454.6 530.1,467.6 531.3,447.5 532.5,488.1 533.7,513.5 534.9,470.8 536.1,565.9 537.3,526.9 538.5,537.2 539.7,533.7 540.9,498.3 542.1,498.2 543.3,524.1 544.5,577.5 545.7,586.2 546.9,570.5 548.0,561.9 549.2,455.0 550.4,455.1 551.6,530.0 552.8,485.2 554.0,470.4 555.2,472.0 556.4,442.5 557.6,442.2 558.8,460.6 560.0,510.3 561.2,520.8 562.4,520.0 563.6,427.5 564.8,426.7 565.9,494.4 567.1,493.0 568.3,571.1 569.5,493.4 570.7,532.7 571.9,531.6 573.1,538.9 574.3,502.2 575.5,498.1 576.7,475.0 577.9,503.5 579.1,508.8 580.3,514.2 581.5,533.7 582.7,478.7 583.9,483.3 585.0,438.0 586.2,465.2 587.4,523.1 588.6,498.1 589.8,517.2 591.0,480.8 592.2,578.2 593.4,530.0 594.6,571.2 595.8,587.2 597.0,594.1 598.2,615.2 599.4,586.6 600.6,558.6 601.8,552.7 602.9,484.1 604.1,559.4 605.3,544.0 606.5,499.2 607.7,571.3 608.9,550.5 610.1,577.2 611.3,572.4 612.5,617.5 613.7,582.5 614.9,589.1 616.1,555.6 617.3,561.2 618.5,604.4 619.7,594.3 620.8,567.9 622.0,568.1 623.2,592.5 624.4,546.8 625.6,565.4 626.8,535.9 628.0,540.3 629.2,538.9 630.4,527.2 631.6,547.2 632.8,524.3 634.0,570.9 635.2,570.0 636.4,570.1 637.6,530.0 638.8,551.9 639.9,561.3 641.1,532.8 642.3,487.0 643.5,498.0 644.7,532.9 645.9,513.0 647.1,499.6 648.3,557.2 649.5,497.1 650.7,497.0 651.9,545.2 653.1,552.7 654.3,608.1 655.5,574.5 656.7,586.1 657.8,583.2 659.0,549.2 660.2,583.1 661.4,464.2 662.6,424.2 663.8,430.0 665.0,417.5 666.2,412.0 667.4,422.0 668.6,398.3 669.8,437.0 671.0,440.8 672.2,420.0 673.4,394.7 674.6,451.7 675.7,480.0 676.9,493.3 678.1,460.0 679.3,460.5 680.5,488.2 681.7,513.0 682.9,533.0 684.1,474.7 685.3,582.8 686.5,584.9 687.7,538.7 688.9,539.5 690.1,620.1 691.3,620.0 692.5,566.6 693.7,558.1 694.8,595.4 696.0,585.0 697.2,613.6 698.4,585.1 699.6,585.8 700.8,562.5 702.0,553.0 703.2,553.2 704.4,589.1 705.6,611.7 706.8,591.1 708.0,631.4 709.2,634.6 710.4,664.2 711.6,619.0 712.7,616.1 713.9,624.5 715.1,636.3 716.3,622.7 717.5,593.3 718.7,553.8 719.9,553.0 721.1,648.6 722.3,703.6 723.5,664.0 724.7,683.1 725.9,620.2 727.1,607.8 728.3,562.7 729.5,558.4 730.7,558.2 731.8,629.1 733.0,629.7 734.2,591.6 735.4,632.7 736.6,574.5 737.8,574.3 739.0,591.8 740.2,602.9 741.4,588.4 742.6,646.5 743.8,637.1 745.0,625.4 746.2,623.4 747.4,620.9 748.6,697.4 749.7,613.2 750.9,572.2 752.1,559.5 753.3,559.5 754.5,598.3 755.7,620.8 756.9,620.1 758.1,595.6 759.3,614.7 760.5,585.3 761.7,584.9 762.9,693.1 764.1,699.2 765.3,676.3 766.5,658.2 767.6,687.4 768.8,710.7 770.0,679.9 771.2,712.2 772.4,690.0 773.6,712.5 774.8,679.9 776.0,639.0 777.2,638.8 778.4,681.7 779.6,716.9 780.8,708.0 782.0,689.2 783.2,683.8 784.4,688.2 785.6,727.1 786.7,728.6 787.9,700.3 789.1,695.5 790.3,697.4 791.5,666.4 792.7,699.0 793.9,653.8 795.1,689.2 796.3,751.2 797.5,709.5 798.7,739.5 799.9,676.9 801.1,709.5 802.3,632.2 803.5,632.0 804.6,664.3 805.8,646.1 807.0,615.2 808.2,615.6 809.4,683.2 810.6,701.8 811.8,713.5 813.0,682.7 814.2,698.4 815.4,755.6 816.6,711.2 817.8,705.3 819.0,711.1 820.2,704.8 821.4,647.8 822.6,729.5 823.7,729.9 824.9,705.7 826.1,702.2 827.3,733.1 828.5,693.1 829.7,754.5 830.9,754.3 832.1,717.3 833.3,675.4 834.5,708.4 835.7,660.0 836.9,641.8 838.1,625.0 839.3,638.0 840.5,646.0 841.6,643.1 842.8,671.4 844.0,690.1 845.2,623.1 846.4,679.6 847.6,701.0 848.8,714.9 850.0,714.3 851.2,619.4 852.4,634.0 853.6,622.9 854.8,597.3 856.0,597.4 857.2,609.6 858.4,623.4 859.5,632.2 860.7,631.8 861.9,595.7 863.1,596.1 864.3,650.7 865.5,656.1 866.7,633.8 867.9,694.4 869.1,719.5 870.3,704.4 871.5,714.2 872.7,732.7 873.9,733.0 875.1,702.7 876.3,660.3 877.5,660.2 878.6,679.1 879.8,710.6 881.0,699.6 882.2,686.2 883.4,687.4 884.6,716.4 885.8,701.8 887.0,627.8 888.2,628.6 889.4,715.4 890.6,708.3 891.8,666.1 893.0,734.3 894.2,733.8 895.4,614.0 896.5,620.6 897.7,637.4 898.9,640.0 900.1,627.3 901.3,569.2 902.5,567.3 903.7,566.7 904.9,645.5 906.1,645.7 907.3,613.1 908.5,576.3 909.7,563.6 910.9,568.1 912.1,586.0 913.3,597.7 914.4,626.1 915.6,632.9 916.8,581.6 918.0,608.8 919.2,659.5 920.4,659.5 921.6,549.0 922.8,550.6 924.0,564.7 925.2,616.1 926.4,647.3 927.6,646.6 928.8,517.0 930.0,518.0 931.2,522.0 932.4,530.0 933.5,528.7 934.7,594.5 935.9,594.1 937.1,512.9 938.3,539.7 939.5,526.2 940.7,492.6 941.9,529.5 943.1,567.4 944.3,651.1 945.5,675.8 946.7,688.1 947.9,638.2 949.1,637.6 950.3,702.8 951.4,687.6 952.6,668.0 953.8,661.6 955.0,694.3 956.2,655.9 957.4,677.1 958.6,674.1 959.8,699.0 961.0,677.2 962.2,750.4 963.4,697.0 964.6,706.9 965.8,656.3 967.0,715.3 968.2,721.3 969.4,744.6 970.5,726.5 971.7,727.3 972.9,746.2 974.1,733.6 975.3,713.0 976.5,716.4 977.7,654.4 978.9,721.2 980.1,726.6 981.3,731.2 982.5,772.0 983.7,717.2 984.9,726.0 986.1,717.7 987.3,696.3 988.4,742.7 989.6,764.9 990.8,753.4 992.0,735.9 993.2,739.3 994.4,747.1 995.6,715.9 996.8,764.9 998.0,705.1 999.2,738.3 1000.4,714.4 1001.6,743.6 1002.8,684.0 1004.0,668.9 1005.2,700.8 1006.3,666.6 1007.5,745.3 1008.7,712.0 1009.9,696.2 1011.1,720.5 1012.3,741.4 1013.5,753.0 1014.7,741.5 1015.9,736.0 1017.1,758.2 1018.3,726.2 1019.5,692.8 1020.7,701.0 1021.9,738.6 1023.1,726.9 1024.3,668.2 1025.4,734.6 1026.6,706.8 1027.8,724.5 1029.0,745.7 1030.2,721.7 1031.4,761.0 1032.6,744.9 1033.8,668.2 1035.0,708.3 1036.2,689.7 1037.4,687.3 1038.6,745.7 1039.8,760.1 1041.0,732.8 1042.2,673.0 1043.3,726.8 1044.5,717.2 1045.7,741.9 1046.9,706.9 1048.1,727.6 1049.3,729.4 1050.5,704.3 1051.7,763.3 1052.9,665.5 1054.1,700.3 1055.3,704.0 1056.5,717.1 1057.7,711.2 1058.9,665.0 1060.1,718.1 1061.2,738.0 1062.4,733.7 1063.6,739.1 1064.8,724.5 1066.0,721.9 1067.2,691.7 1068.4,639.2 1069.6,696.3 1070.8,676.0 1072.0,677.4 1073.2,688.2 1074.4,663.2 1075.6,680.7 1076.8,624.5 1078.0,617.6 1079.2,669.0 1080.3,710.1 1081.5,758.5 1082.7,710.0 1083.9,699.7 1085.1,656.3 1086.3,694.2 1087.5,685.1 1088.7,747.5 1089.9,725.2 1091.1,744.0 1092.3,725.5 1093.5,667.6 1094.7,678.4 1095.9,652.2 1097.1,688.8 1098.2,691.5 1099.4,655.3 1100.6,631.3 1101.8,697.3 1103.0,711.1 1104.2,743.3 1105.4,653.9 1106.6,652.8 1107.8,665.7 1109.0,675.1 1110.2,674.8 1111.4,648.2 1112.6,721.8 1113.8,746.2 1115.0,722.0 1116.2,728.5 1117.3,726.4 1118.5,738.7 1119.7,744.5 1120.9,696.7 1122.1,710.4 1123.3,700.9 1124.5,726.2 1125.7,684.6 1126.9,677.4 1128.1,685.9 1129.3,643.5 1130.5,629.5 1131.7,616.2 1132.9,622.1 1134.1,663.9 1135.2,666.1 1136.4,643.7 1137.6,676.3 1138.8,610.0 1140.0,598.2 1141.2,551.0 1142.4,530.7 1143.6,572.0 1144.8,569.0 1146.0,574.0 1147.2,571.0 1148.4,562.0 1149.6,542.0 1150.8,632.3 1152.0,657.7 1153.1,643.2 1154.3,648.3 1155.5,665.3 1156.7,637.6 1157.9,699.5 1159.1,643.3 1160.3,636.0 1161.5,659.9 1162.7,651.5 1163.9,710.3 1165.1,709.4 1166.3,683.5 1167.5,702.7 1168.7,654.4 1169.9,759.1 1171.1,721.7 1172.2,738.3 1173.4,740.9 1174.6,753.6" fill="none" stroke="#ffff00" stroke-width="2.7" stroke-linejoin="round" stroke-linecap="round"/>
<path d="M107.6,394.4h0M108.8,362.5h0M110.0,334.8h0M111.2,291.2h0M112.4,273.4h0M113.6,255.9h0M114.8,368.3h0M116.0,319.6h0M117.2,543.9h0M118.4,500.9h0M119.6,573.1h0M120.8,567.6h0M122.0,574.4h0M123.2,546.4h0M124.4,500.2h0M125.5,493.9h0M126.7,539.1h0M127.9,506.5h0M129.1,507.9h0M130.3,505.9h0M131.5,465.8h0M132.7,502.4h0M133.9,517.3h0M135.1,602.9h0M136.3,540.6h0M137.5,599.6h0M138.7,599.5h0M139.9,553.6h0M141.1,610.3h0M142.3,604.0h0M143.4,594.0h0M144.6,590.0h0M145.8,604.9h0M147.0,608.9h0M148.2,616.0h0M149.4,554.2h0M150.6,553.2h0M151.8,552.9h0M153.0,579.6h0M154.2,610.8h0M155.4,527.7h0M156.6,552.5h0M157.8,586.4h0M159.0,607.0h0M160.2,596.5h0M161.4,518.6h0M162.5,557.6h0M163.7,580.2h0M164.9,556.2h0M166.1,478.8h0M167.3,500.4h0M168.5,414.7h0M169.7,315.6h0M170.9,314.5h0M172.1,320.9h0M173.3,298.1h0M174.5,260.3h0M175.7,246.2h0M176.9,279.3h0M178.1,307.1h0M179.3,334.4h0M180.4,343.8h0M181.6,428.4h0M182.8,465.8h0M184.0,504.3h0M185.2,436.8h0M186.4,434.7h0M187.6,458.5h0M188.8,453.7h0M190.0,445.8h0M191.2,502.5h0M192.4,526.4h0M193.6,480.9h0M194.8,370.5h0M196.0,346.2h0M197.2,351.2h0M198.3,336.9h0M199.5,404.6h0M200.7,421.8h0M201.9,340.5h0M203.1,361.5h0M204.3,330.1h0M205.5,346.0h0M206.7,407.7h0M207.9,285.6h0M209.1,252.0h0M210.3,219.6h0M211.5,335.0h0M212.7,350.0h0M213.9,344.0h0M215.1,331.0h0M216.3,263.8h0M217.4,292.0h0M218.6,317.0h0M219.8,266.9h0M221.0,242.5h0M222.2,234.4h0M223.4,143.8h0M224.6,136.2h0M225.8,197.5h0M227.0,285.0h0M228.2,262.0h0M229.4,247.0h0M230.6,246.0h0M231.8,251.0h0M233.0,302.5h0M234.2,311.0h0M235.3,400.3h0M236.5,443.2h0M237.7,480.9h0M238.9,438.7h0M240.1,459.7h0M241.3,469.2h0M242.5,445.1h0M243.7,466.6h0M244.9,509.3h0M246.1,531.1h0M247.3,529.6h0M248.5,548.0h0M249.7,560.0h0M250.9,569.4h0M252.1,504.3h0M253.3,566.5h0M254.4,556.3h0M255.6,535.5h0M256.8,576.5h0M258.0,518.9h0M259.2,486.6h0M260.4,492.3h0M261.6,520.3h0M262.8,573.9h0M264.0,508.6h0M265.2,419.1h0M266.4,432.4h0M267.6,485.9h0M268.8,466.6h0M270.0,470.8h0M271.2,453.6h0M272.3,488.1h0M273.5,538.6h0M274.7,490.2h0M275.9,522.0h0M277.1,525.1h0M278.3,508.2h0M279.5,401.7h0M280.7,323.7h0M281.9,369.7h0M283.1,219.8h0M284.3,240.0h0M285.5,255.0h0M286.7,172.2h0M287.9,190.0h0M289.1,171.0h0M290.2,247.6h0M291.4,238.0h0M292.6,395.0h0M293.8,292.0h0M295.0,296.0h0M296.2,290.0h0M297.4,270.0h0M298.6,199.0h0M299.8,215.0h0M301.0,225.0h0M302.2,213.8h0M303.4,326.5h0M304.6,302.9h0M305.8,302.0h0M307.0,359.5h0M308.2,366.0h0M309.3,277.0h0M310.5,292.0h0M311.7,299.9h0M312.9,296.3h0M314.1,316.2h0M315.3,341.2h0M316.5,307.9h0M317.7,335.9h0M318.9,359.5h0M320.1,374.0h0M321.3,384.0h0M322.5,390.0h0M323.7,393.0h0M324.9,410.0h0M326.1,415.9h0M327.2,431.0h0M328.4,428.3h0M329.6,460.1h0M330.8,409.5h0M332.0,421.5h0M333.2,427.8h0M334.4,495.2h0M335.6,423.8h0M336.8,373.0h0M338.0,361.3h0M339.2,300.0h0M340.4,245.7h0M341.6,262.0h0M342.8,312.0h0M344.0,264.0h0M345.1,254.8h0M346.3,254.0h0M347.5,276.5h0M348.7,273.4h0M349.9,313.2h0M351.1,353.5h0M352.3,321.5h0M353.5,343.4h0M354.7,375.6h0M355.9,356.1h0M357.1,388.6h0M358.3,293.2h0M359.5,346.8h0M360.7,307.8h0M361.9,373.7h0M363.1,385.1h0M364.2,395.1h0M365.4,363.0h0M366.6,369.7h0M367.8,419.9h0M369.0,458.8h0M370.2,432.4h0M371.4,478.3h0M372.6,477.5h0M373.8,387.3h0M375.0,345.7h0M376.2,375.5h0M377.4,389.1h0M378.6,438.6h0M379.8,448.3h0M381.0,380.8h0M382.1,380.8h0M383.3,410.6h0M384.5,409.5h0M385.7,475.7h0M386.9,500.4h0M388.1,500.8h0M389.3,512.5h0M390.5,511.6h0M391.7,421.2h0M392.9,420.0h0M394.1,519.2h0M395.3,518.6h0M396.5,503.9h0M397.7,504.3h0M398.9,468.4h0M400.1,452.0h0M401.2,458.3h0M402.4,517.3h0M403.6,530.8h0M404.8,515.0h0M406.0,474.2h0M407.2,513.3h0M408.4,480.0h0M409.6,541.7h0M410.8,547.5h0M412.0,569.3h0M413.2,522.5h0M414.4,551.1h0M415.6,531.7h0M416.8,550.1h0M418.0,544.7h0M419.1,487.5h0M420.3,525.7h0M421.5,541.9h0M422.7,506.7h0M423.9,493.3h0M425.1,409.7h0M426.3,410.1h0M427.5,450.0h0M428.7,394.3h0M429.9,416.0h0M431.1,448.7h0M432.3,405.0h0M433.5,375.7h0M434.7,360.0h0M435.9,396.6h0M437.0,412.5h0M438.2,411.4h0M439.4,412.3h0M440.6,417.0h0M441.8,373.5h0M443.0,424.2h0M444.2,475.8h0M445.4,493.3h0M446.6,481.7h0M447.8,476.8h0M449.0,494.2h0M450.2,388.6h0M451.4,390.8h0M452.6,387.6h0M453.8,386.9h0M455.0,360.0h0M456.1,429.2h0M457.3,404.5h0M458.5,346.5h0M459.7,402.9h0M460.9,402.5h0M462.1,308.1h0M463.3,247.0h0M464.5,301.6h0M465.7,234.2h0M466.9,226.2h0M468.1,290.8h0M469.3,251.9h0M470.5,245.7h0M471.7,252.0h0M472.9,259.2h0M474.0,295.5h0M475.2,335.0h0M476.4,333.5h0M477.6,250.9h0M478.8,279.5h0M480.0,261.6h0M481.2,243.1h0M482.4,215.8h0M483.6,197.5h0M484.8,180.8h0M486.0,240.4h0M487.2,199.5h0M488.4,269.1h0M489.6,241.8h0M490.8,267.0h0M492.0,276.9h0M493.1,231.4h0M494.3,300.3h0M495.5,304.1h0M496.7,258.7h0M497.9,337.9h0M499.1,313.9h0M500.3,384.7h0M501.5,300.3h0M502.7,384.7h0M503.9,410.6h0M505.1,352.7h0M506.3,352.6h0M507.5,421.7h0M508.7,366.5h0M509.9,366.1h0M511.0,455.8h0M512.2,389.9h0M513.4,390.0h0M514.6,485.7h0M515.8,485.0h0M517.0,409.2h0M518.2,409.0h0M519.4,436.0h0M520.6,450.0h0M521.8,503.3h0M523.0,530.8h0M524.2,533.0h0M525.4,443.3h0M526.6,418.0h0M527.8,417.7h0M528.9,454.6h0M530.1,467.6h0M531.3,447.5h0M532.5,488.1h0M533.7,513.5h0M534.9,470.8h0M536.1,565.9h0M537.3,526.9h0M538.5,537.2h0M539.7,533.7h0M540.9,498.3h0M542.1,498.2h0M543.3,524.1h0M544.5,577.5h0M545.7,586.2h0M546.9,570.5h0M548.0,561.9h0M549.2,455.0h0M550.4,455.1h0M551.6,530.0h0M552.8,485.2h0M554.0,470.4h0M555.2,472.0h0M556.4,442.5h0M557.6,442.2h0M558.8,460.6h0M560.0,510.3h0M561.2,520.8h0M562.4,520.0h0M563.6,427.5h0M564.8,426.7h0M565.9,494.4h0M567.1,493.0h0M568.3,571.1h0M569.5,493.4h0M570.7,532.7h0M571.9,531.6h0M573.1,538.9h0M574.3,502.2h0M575.5,498.1h0M576.7,475.0h0M577.9,503.5h0M579.1,508.8h0M580.3,514.2h0M581.5,533.7h0M582.7,478.7h0M583.9,483.3h0M585.0,438.0h0M586.2,465.2h0M587.4,523.1h0M588.6,498.1h0M589.8,517.2h0M591.0,480.8h0M592.2,578.2h0M593.4,530.0h0M594.6,571.2h0M595.8,587.2h0M597.0,594.1h0M598.2,615.2h0M599.4,586.6h0M600.6,558.6h0M601.8,552.7h0M602.9,484.1h0M604.1,559.4h0M605.3,544.0h0M606.5,499.2h0M607.7,571.3h0M608.9,550.5h0M610.1,577.2h0M611.3,572.4h0M612.5,617.5h0M613.7,582.5h0M614.9,589.1h0M616.1,555.6h0M617.3,561.2h0M618.5,604.4h0M619.7,594.3h0M620.8,567.9h0M622.0,568.1h0M623.2,592.5h0M624.4,546.8h0M625.6,565.4h0M626.8,535.9h0M628.0,540.3h0M629.2,538.9h0M630.4,527.2h0M631.6,547.2h0M632.8,524.3h0M634.0,570.9h0M635.2,570.0h0M636.4,570.1h0M637.6,530.0h0M638.8,551.9h0M639.9,561.3h0M641.1,532.8h0M642.3,487.0h0M643.5,498.0h0M644.7,532.9h0M645.9,513.0h0M647.1,499.6h0M648.3,557.2h0M649.5,497.1h0M650.7,497.0h0M651.9,545.2h0M653.1,552.7h0M654.3,608.1h0M655.5,574.5h0M656.7,586.1h0M657.8,583.2h0M659.0,549.2h0M660.2,583.1h0M661.4,464.2h0M662.6,424.2h0M663.8,430.0h0M665.0,417.5h0M666.2,412.0h0M667.4,422.0h0M668.6,398.3h0M669.8,437.0h0M671.0,440.8h0M672.2,420.0h0M673.4,394.7h0M674.6,451.7h0M675.7,480.0h0M676.9,493.3h0M678.1,460.0h0M679.3,460.5h0M680.5,488.2h0M681.7,513.0h0M682.9,533.0h0M684.1,474.7h0M685.3,582.8h0M686.5,584.9h0M687.7,538.7h0M688.9,539.5h0M690.1,620.1h0M691.3,620.0h0M692.5,566.6h0M693.7,558.1h0M694.8,595.4h0M696.0,585.0h0M697.2,613.6h0M698.4,585.1h0M699.6,585.8h0M700.8,562.5h0M702.0,553.0h0M703.2,553.2h0M704.4,589.1h0M705.6,611.7h0M706.8,591.1h0M708.0,631.4h0M709.2,634.6h0M710.4,664.2h0M711.6,619.0h0M712.7,616.1h0M713.9,624.5h0M715.1,636.3h0M716.3,622.7h0M717.5,593.3h0M718.7,553.8h0M719.9,553.0h0M721.1,648.6h0M722.3,703.6h0M723.5,664.0h0M724.7,683.1h0M725.9,620.2h0M727.1,607.8h0M728.3,562.7h0M729.5,558.4h0M730.7,558.2h0M731.8,629.1h0M733.0,629.7h0M734.2,591.6h0M735.4,632.7h0M736.6,574.5h0M737.8,574.3h0M739.0,591.8h0M740.2,602.9h0M741.4,588.4h0M742.6,646.5h0M743.8,637.1h0M745.0,625.4h0M746.2,623.4h0M747.4,620.9h0M748.6,697.4h0M749.7,613.2h0M750.9,572.2h0M752.1,559.5h0M753.3,559.5h0M754.5,598.3h0M755.7,620.8h0M756.9,620.1h0M758.1,595.6h0M759.3,614.7h0M760.5,585.3h0M761.7,584.9h0M762.9,693.1h0M764.1,699.2h0M765.3,676.3h0M766.5,658.2h0M767.6,687.4h0M768.8,710.7h0M770.0,679.9h0M771.2,712.2h0M772.4,690.0h0M773.6,712.5h0M774.8,679.9h0M776.0,639.0h0M777.2,638.8h0M778.4,681.7h0M779.6,716.9h0M780.8,708.0h0M782.0,689.2h0M783.2,683.8h0M784.4,688.2h0M785.6,727.1h0M786.7,728.6h0M787.9,700.3h0M789.1,695.5h0M790.3,697.4h0M791.5,666.4h0M792.7,699.0h0M793.9,653.8h0M795.1,689.2h0M796.3,751.2h0M797.5,709.5h0M798.7,739.5h0M799.9,676.9h0M801.1,709.5h0M802.3,632.2h0M803.5,632.0h0M804.6,664.3h0M805.8,646.1h0M807.0,615.2h0M808.2,615.6h0M809.4,683.2h0M810.6,701.8h0M811.8,713.5h0M813.0,682.7h0M814.2,698.4h0M815.4,755.6h0M816.6,711.2h0M817.8,705.3h0M819.0,711.1h0M820.2,704.8h0M821.4,647.8h0M822.6,729.5h0M823.7,729.9h0M824.9,705.7h0M826.1,702.2h0M827.3,733.1h0M828.5,693.1h0M829.7,754.5h0M830.9,754.3h0M832.1,717.3h0M833.3,675.4h0M834.5,708.4h0M835.7,660.0h0M836.9,641.8h0M838.1,625.0h0M839.3,638.0h0M840.5,646.0h0M841.6,643.1h0M842.8,671.4h0M844.0,690.1h0M845.2,623.1h0M846.4,679.6h0M847.6,701.0h0M848.8,714.9h0M850.0,714.3h0M851.2,619.4h0M852.4,634.0h0M853.6,622.9h0M854.8,597.3h0M856.0,597.4h0M857.2,609.6h0M858.4,623.4h0M859.5,632.2h0M860.7,631.8h0M861.9,595.7h0M863.1,596.1h0M864.3,650.7h0M865.5,656.1h0M866.7,633.8h0M867.9,694.4h0M869.1,719.5h0M870.3,704.4h0M871.5,714.2h0M872.7,732.7h0M873.9,733.0h0M875.1,702.7h0M876.3,660.3h0M877.5,660.2h0M878.6,679.1h0M879.8,710.6h0M881.0,699.6h0M882.2,686.2h0M883.4,687.4h0M884.6,716.4h0M885.8,701.8h0M887.0,627.8h0M888.2,628.6h0M889.4,715.4h0M890.6,708.3h0M891.8,666.1h0M893.0,734.3h0M894.2,733.8h0M895.4,614.0h0M896.5,620.6h0M897.7,637.4h0M898.9,640.0h0M900.1,627.3h0M901.3,569.2h0M902.5,567.3h0M903.7,566.7h0M904.9,645.5h0M906.1,645.7h0M907.3,613.1h0M908.5,576.3h0M909.7,563.6h0M910.9,568.1h0M912.1,586.0h0M913.3,597.7h0M914.4,626.1h0M915.6,632.9h0M916.8,581.6h0M918.0,608.8h0M919.2,659.5h0M920.4,659.5h0M921.6,549.0h0M922.8,550.6h0M924.0,564.7h0M925.2,616.1h0M926.4,647.3h0M927.6,646.6h0M928.8,517.0h0M930.0,518.0h0M931.2,522.0h0M932.4,530.0h0M933.5,528.7h0M934.7,594.5h0M935.9,594.1h0M937.1,512.9h0M938.3,539.7h0M939.5,526.2h0M940.7,492.6h0M941.9,529.5h0M943.1,567.4h0M944.3,651.1h0M945.5,675.8h0M946.7,688.1h0M947.9,638.2h0M949.1,637.6h0M950.3,702.8h0M951.4,687.6h0M952.6,668.0h0M953.8,661.6h0M955.0,694.3h0M956.2,655.9h0M957.4,677.1h0M958.6,674.1h0M959.8,699.0h0M961.0,677.2h0M962.2,750.4h0M963.4,697.0h0M964.6,706.9h0M965.8,656.3h0M967.0,715.3h0M968.2,721.3h0M969.4,744.6h0M970.5,726.5h0M971.7,727.3h0M972.9,746.2h0M974.1,733.6h0M975.3,713.0h0M976.5,716.4h0M977.7,654.4h0M978.9,721.2h0M980.1,726.6h0M981.3,731.2h0M982.5,772.0h0M983.7,717.2h0M984.9,726.0h0M986.1,717.7h0M987.3,696.3h0M988.4,742.7h0M989.6,764.9h0M990.8,753.4h0M992.0,735.9h0M993.2,739.3h0M994.4,747.1h0M995.6,715.9h0M996.8,764.9h0M998.0,705.1h0M999.2,738.3h0M1000.4,714.4h0M1001.6,743.6h0M1002.8,684.0h0M1004.0,668.9h0M1005.2,700.8h0M1006.3,666.6h0M1007.5,745.3h0M1008.7,712.0h0M1009.9,696.2h0M1011.1,720.5h0M1012.3,741.4h0M1013.5,753.0h0M1014.7,741.5h0M1015.9,736.0h0M1017.1,758.2h0M1018.3,726.2h0M1019.5,692.8h0M1020.7,701.0h0M1021.9,738.6h0M1023.1,726.9h0M1024.3,668.2h0M1025.4,734.6h0M1026.6,706.8h0M1027.8,724.5h0M1029.0,745.7h0M1030.2,721.7h0M1031.4,761.0h0M1032.6,744.9h0M1033.8,668.2h0M1035.0,708.3h0M1036.2,689.7h0M1037.4,687.3h0M1038.6,745.7h0M1039.8,760.1h0M1041.0,732.8h0M1042.2,673.0h0M1043.3,726.8h0M1044.5,717.2h0M1045.7,741.9h0M1046.9,706.9h0M1048.1,727.6h0M1049.3,729.4h0M1050.5,704.3h0M1051.7,763.3h0M1052.9,665.5h0M1054.1,700.3h0M1055.3,704.0h0M1056.5,717.1h0M1057.7,711.2h0M1058.9,665.0h0M1060.1,718.1h0M1061.2,738.0h0M1062.4,733.7h0M1063.6,739.1h0M1064.8,724.5h0M1066.0,721.9h0M1067.2,691.7h0M1068.4,639.2h0M1069.6,696.3h0M1070.8,676.0h0M1072.0,677.4h0M1073.2,688.2h0M1074.4,663.2h0M1075.6,680.7h0M1076.8,624.5h0M1078.0,617.6h0M1079.2,669.0h0M1080.3,710.1h0M1081.5,758.5h0M1082.7,710.0h0M1083.9,699.7h0M1085.1,656.3h0M1086.3,694.2h0M1087.5,685.1h0M1088.7,747.5h0M1089.9,725.2h0M1091.1,744.0h0M1092.3,725.5h0M1093.5,667.6h0M1094.7,678.4h0M1095.9,652.2h0M1097.1,688.8h0M1098.2,691.5h0M1099.4,655.3h0M1100.6,631.3h0M1101.8,697.3h0M1103.0,711.1h0M1104.2,743.3h0M1105.4,653.9h0M1106.6,652.8h0M1107.8,665.7h0M1109.0,675.1h0M1110.2,674.8h0M1111.4,648.2h0M1112.6,721.8h0M1113.8,746.2h0M1115.0,722.0h0M1116.2,728.5h0M1117.3,726.4h0M1118.5,738.7h0M1119.7,744.5h0M1120.9,696.7h0M1122.1,710.4h0M1123.3,700.9h0M1124.5,726.2h0M1125.7,684.6h0M1126.9,677.4h0M1128.1,685.9h0M1129.3,643.5h0M1130.5,629.5h0M1131.7,616.2h0M1132.9,622.1h0M1134.1,663.9h0M1135.2,666.1h0M1136.4,643.7h0M1137.6,676.3h0M1138.8,610.0h0M1140.0,598.2h0M1141.2,551.0h0M1142.4,530.7h0M1143.6,572.0h0M1144.8,569.0h0M1146.0,574.0h0M1147.2,571.0h0M1148.4,562.0h0M1149.6,542.0h0M1150.8,632.3h0M1152.0,657.7h0M1153.1,643.2h0M1154.3,648.3h0M1155.5,665.3h0M1156.7,637.6h0M1157.9,699.5h0M1159.1,643.3h0M1160.3,636.0h0M1161.5,659.9h0M1162.7,651.5h0M1163.9,710.3h0M1165.1,709.4h0M1166.3,683.5h0M1167.5,702.7h0M1168.7,654.4h0M1169.9,759.1h0M1171.1,721.7h0M1172.2,738.3h0M1173.4,740.9h0M1174.6,753.6h0" fill="none" stroke="#ffff00" stroke-width="6.6" stroke-linecap="round"/>
<text x="92" y="806.50" font-size="33.4" fill="#262626" text-anchor="end">10</text>
<text x="92" y="681.03" font-size="33.4" fill="#262626" text-anchor="end">15</text>
<text x="92" y="555.57" font-size="33.4" fill="#262626" text-anchor="end">20</text>
<text x="92" y="430.10" font-size="33.4" fill="#262626" text-anchor="end">25</text>
<text x="92" y="304.63" font-size="33.4" fill="#262626" text-anchor="end">30</text>
<text x="92" y="179.17" font-size="33.4" fill="#262626" text-anchor="end">35</text>
<text x="92" y="53.70" font-size="33.4" fill="#262626" text-anchor="end">40</text>
<text transform="translate(127.80,832.50) rotate(-45)" font-size="32.6" fill="#262626" text-anchor="end">29/11/2021</text>
<text transform="translate(247.11,832.50) rotate(-45)" font-size="32.6" fill="#262626" text-anchor="end">9/3/2022</text>
<text transform="translate(366.42,832.50) rotate(-45)" font-size="32.6" fill="#262626" text-anchor="end">19/6/2022</text>
<text transform="translate(485.73,832.50) rotate(-45)" font-size="32.6" fill="#262626" text-anchor="end">29/9/2022</text>
<text transform="translate(605.04,832.50) rotate(-45)" font-size="32.6" fill="#262626" text-anchor="end">9/1/2023</text>
<text transform="translate(724.36,832.50) rotate(-45)" font-size="32.6" fill="#262626" text-anchor="end">19/4/2023</text>
<text transform="translate(843.67,832.50) rotate(-45)" font-size="32.6" fill="#262626" text-anchor="end">29/7/2023</text>
<text transform="translate(962.98,832.50) rotate(-45)" font-size="32.6" fill="#262626" text-anchor="end">9/10/2023</text>
<text transform="translate(1082.29,832.50) rotate(-45)" font-size="32.6" fill="#262626" text-anchor="end">19/1/2024</text>
<text transform="translate(1201.60,832.50) rotate(-45)" font-size="32.6" fill="#262626" text-anchor="end">9/4/2024</text>
<text x="643.40" y="992.5" font-size="36.5" fill="#262626" text-anchor="middle">Date</text>
<text transform="translate(37,418.10) rotate(-90)" font-size="36.5" fill="#262626" text-anchor="middle">VIX</text>
<text x="644.3" y="25.5" font-size="36.5" font-weight="bold" fill="#000" text-anchor="middle">Forecasted VIX: case of GPR as input</text>
<rect x="822" y="66.7" width="332.7" height="91.6" fill="#fff" stroke="#262626" stroke-width="1.4"/>
<line x1="832.3" y1="91.7" x2="930.7" y2="91.7" stroke="#ff0000" stroke-width="2.4"/><circle cx="881.5" cy="91.7" r="3.1" fill="#ff0000"/>
<line x1="832.3" y1="133.7" x2="930.7" y2="133.7" stroke="#ffff00" stroke-width="2.4"/><circle cx="881.5" cy="133.7" r="3.1" fill="#ffff00"/>
<text x="939" y="102.7" font-size="30" fill="#000">Actual VIX</text>
<text x="939" y="144.7" font-size="30" fill="#000">Forecasted VIX</text>
</svg>
</body></html>
